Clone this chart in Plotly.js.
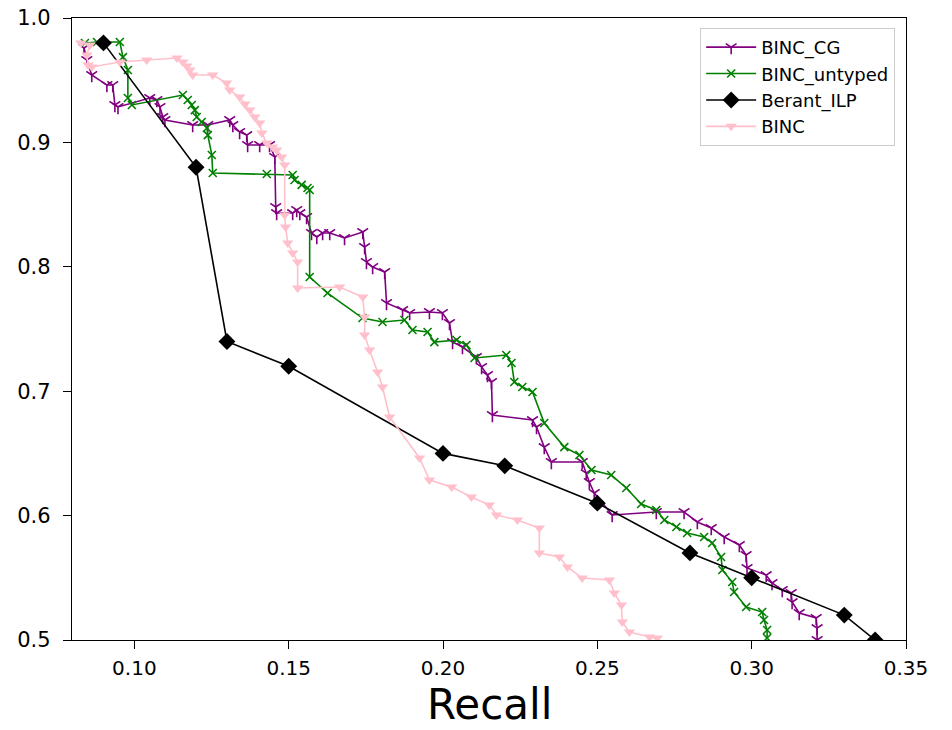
<!DOCTYPE html>
<html>
<head>
<meta charset="utf-8">
<script src="https://cdn.plot.ly/plotly-3.0.1.min.js"></script>
<style>html,body{margin:0;padding:0;background:#fff;}#chart{width:952px;height:730px;}</style>
</head>
<body>
<div id="chart"></div>
<script>
var cgX = [0.0837,0.0846,0.0862,0.0911,0.0930,0.0937,0.0947,0.1050,0.1073,0.1083,0.1092,0.1099,0.1189,0.1238,0.1309,0.1319,0.1341,0.1364,0.1367,0.1406,0.1438,0.1455,0.1458,0.1461,0.1513,0.1526,0.1536,0.1558,0.1574,0.1591,0.1610,0.1633,0.1681,0.1740,0.1746,0.1752,0.1772,0.1811,0.1817,0.1869,0.1892,0.1956,0.1998,0.2021,0.2031,0.2063,0.2108,0.2125,0.2144,0.2157,0.2160,0.2290,0.2303,0.2328,0.2351,0.2451,0.2464,0.2474,0.2490,0.2548,0.2691,0.2781,0.2824,0.2869,0.2911,0.2960,0.2982,0.2985,0.3047,0.3066,0.3099,0.3128,0.3131,0.3154,0.3209,0.3212,0.3212];
var cgY = [0.9759,0.9662,0.9542,0.9461,0.9461,0.9301,0.9285,0.9357,0.9341,0.9285,0.9204,0.9180,0.9140,0.9140,0.9180,0.9140,0.9084,0.9059,0.8979,0.8979,0.8979,0.8883,0.8481,0.8432,0.8432,0.8457,0.8432,0.8400,0.8272,0.8240,0.8272,0.8272,0.8232,0.8280,0.8159,0.8039,0.7998,0.7958,0.7709,0.7653,0.7629,0.7637,0.7629,0.7548,0.7395,0.7355,0.7275,0.7195,0.7130,0.7074,0.6809,0.6768,0.6712,0.6551,0.6431,0.6431,0.6342,0.6270,0.6182,0.6005,0.6029,0.6029,0.5949,0.5900,0.5828,0.5764,0.5683,0.5579,0.5522,0.5458,0.5402,0.5378,0.5305,0.5217,0.5177,0.5096,0.5000];

var untX = [0.0840,0.0879,0.0953,0.0963,0.0979,0.0979,0.0992,0.1157,0.1173,0.1186,0.1196,0.1202,0.1218,0.1235,0.1238,0.1251,0.1254,0.1429,0.1513,0.1519,0.1542,0.1561,0.1568,0.1568,0.1626,0.1739,0.1804,0.1875,0.1901,0.1950,0.1972,0.2044,0.2076,0.2102,0.2205,0.2222,0.2231,0.2257,0.2290,0.2328,0.2393,0.2442,0.2481,0.2545,0.2594,0.2642,0.2691,0.2717,0.2756,0.2791,0.2846,0.2872,0.2901,0.2905,0.2937,0.2943,0.2982,0.3034,0.3040,0.3050,0.3050];
var untY = [0.9799,0.9807,0.9807,0.9686,0.9582,0.9357,0.9301,0.9381,0.9341,0.9301,0.9260,0.9204,0.9164,0.9116,0.9059,0.8899,0.8754,0.8746,0.8738,0.8698,0.8658,0.8633,0.8617,0.7918,0.7789,0.7588,0.7556,0.7572,0.7492,0.7476,0.7395,0.7412,0.7371,0.7267,0.7291,0.7227,0.7074,0.7034,0.6994,0.6744,0.6551,0.6487,0.6367,0.6326,0.6222,0.6093,0.6045,0.5965,0.5908,0.5860,0.5828,0.5780,0.5667,0.5563,0.5466,0.5386,0.5265,0.5225,0.5161,0.5080,0.5016];

var ilpX = [0.09,0.12,0.13,0.15,0.20,0.22,0.25,0.28,0.30,0.33,0.34];
var ilpY = [0.98,0.88,0.74,0.72,0.65,0.64,0.61,0.57,0.55,0.52,0.50];

var bincX = [0.0827,0.0856,0.0846,0.0850,0.0862,0.0953,0.1040,0.1138,0.1157,0.1170,0.1180,0.1189,0.1254,0.1299,0.1309,0.1341,0.1358,0.1374,0.1390,0.1406,0.1413,0.1429,0.1448,0.1461,0.1477,0.1487,0.1487,0.1490,0.1497,0.1513,0.1529,0.1529,0.1665,0.1740,0.1746,0.1746,0.1762,0.1788,0.1804,0.1827,0.1924,0.1956,0.2028,0.2092,0.2150,0.2173,0.2241,0.2312,0.2312,0.2377,0.2403,0.2451,0.2539,0.2555,0.2578,0.2581,0.2604,0.2669,0.2694];
var bincY = [0.9799,0.9783,0.9703,0.9622,0.9606,0.9646,0.9662,0.9678,0.9646,0.9614,0.9582,0.9542,0.9542,0.9477,0.9421,0.9365,0.9309,0.9260,0.9204,0.9156,0.9076,0.8995,0.8963,0.8939,0.8883,0.8818,0.8416,0.8320,0.8191,0.8111,0.8039,0.7830,0.7838,0.7757,0.7596,0.7452,0.7331,0.7154,0.7034,0.6793,0.6463,0.6286,0.6230,0.6150,0.6085,0.6005,0.5965,0.5900,0.5699,0.5667,0.5587,0.5498,0.5482,0.5378,0.5281,0.5145,0.5064,0.5024,0.5016];

var seriesNames = ['BINC_CG','BINC_untyped','Berant_ILP','BINC'];
var xTicks = [0.10,0.15,0.20,0.25,0.30,0.35];
var yTicks = [0.5,0.6,0.7,0.8,0.9,1.0];
var xTitle = 'Recall';

var traces = [
  {x: cgX, y: cgY, name: seriesNames[0], legendgroup: 'a', mode: 'lines+markers', type: 'scatter',
   line: {color: '#800080', width: 1.6},
   marker: {symbol: 'y-down-open', size: 9, color: '#800080', line: {color: '#800080', width: 1.6}}},
  {x: untX, y: untY, name: seriesNames[1], legendgroup: 'b', mode: 'lines+markers', type: 'scatter',
   line: {color: '#008000', width: 1.6},
   marker: {symbol: 'x-thin-open', size: 8, color: '#008000', line: {color: '#008000', width: 1.6}}},
  {x: ilpX, y: ilpY, name: seriesNames[2], legendgroup: 'c', mode: 'lines+markers', type: 'scatter',
   line: {color: '#000000', width: 1.6},
   marker: {symbol: 'diamond', size: 13, color: '#000000'}},
  {x: bincX, y: bincY, name: seriesNames[3], legendgroup: 'd', mode: 'lines+markers', type: 'scatter',
   line: {color: '#FFC0CB', width: 1.6},
   marker: {symbol: 'triangle-down', size: 10, color: '#FFC0CB'}}
];

var layout = {
  width: 952, height: 730,
  margin: {l: 72, r: 46, t: 18, b: 90},
  paper_bgcolor: '#ffffff', plot_bgcolor: '#ffffff',
  font: {family: 'DejaVu Sans, sans-serif', color: '#000000', size: 20},
  showlegend: true,
  legend: {x: 0.987, y: 0.984, xanchor: 'right', yanchor: 'top',
           bgcolor: 'rgba(255,255,255,0.8)', bordercolor: '#cccccc', borderwidth: 1,
           font: {size: 18, family: 'DejaVu Sans, sans-serif'},
           itemwidth: 50,
           traceorder: 'grouped', tracegroupgap: 0},
  xaxis: {range: [0.0798, 0.35], tickvals: xTicks, ticktext: xTicks.map(function(v){return v.toFixed(2);}),
          ticks: 'outside', ticklen: 8, tickwidth: 1.3, tickcolor: '#000',
          showline: true, linecolor: '#000', linewidth: 1.3, mirror: true,
          showgrid: false, zeroline: false, ticklabelstandoff: 2,
          tickfont: {size: 20}},
  yaxis: {range: [0.5, 1.0], tickvals: yTicks, ticktext: yTicks.map(function(v){return v.toFixed(1);}),
          ticks: 'outside', ticklen: 8, tickwidth: 1.3, tickcolor: '#000',
          showline: true, linecolor: '#000', linewidth: 1.3, mirror: true,
          showgrid: false, zeroline: false, ticklabelstandoff: 8,
          tickfont: {size: 21}},
  annotations: [{text: xTitle, xref: 'paper', yref: 'paper', x: 0.5, y: -0.1045,
                 xanchor: 'center', yanchor: 'middle', showarrow: false,
                 font: {size: 42, family: 'DejaVu Sans, sans-serif', color: '#000'}}]
};

Plotly.newPlot('chart', traces, layout, {displayModeBar: false});
</script>
</body>
</html>
